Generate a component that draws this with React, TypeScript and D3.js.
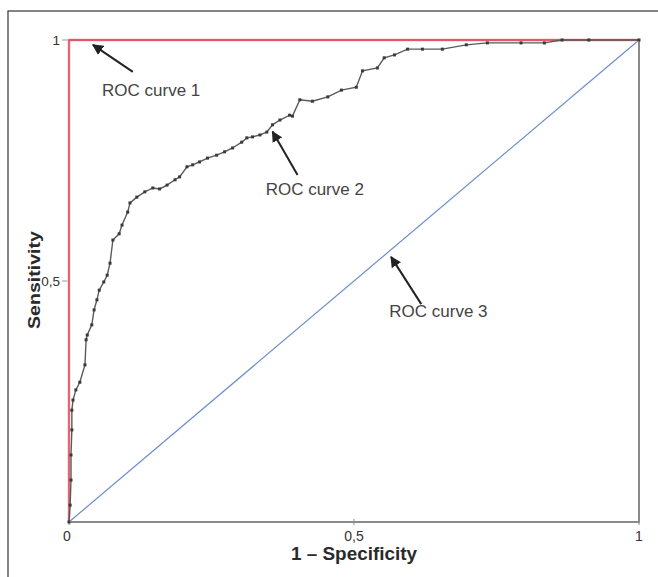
import React from "react";
import * as d3 from "d3";

const roc1: [number, number][] = [[0, 0], [0, 1], [1, 1]];
const roc3: [number, number][] = [[0, 0], [1, 1]];
const roc2: [number, number][] = [
  [0, 0], [0.002, 0.035], [0.0035, 0.087], [0.0035, 0.139], [0.005, 0.191], [0.005, 0.232],
  [0.007, 0.253], [0.012, 0.274], [0.019, 0.29], [0.028, 0.326], [0.03, 0.378], [0.032, 0.388],
  [0.04, 0.409], [0.044, 0.44], [0.049, 0.461], [0.053, 0.481], [0.061, 0.498], [0.067, 0.512],
  [0.072, 0.537], [0.077, 0.585], [0.088, 0.598], [0.093, 0.616], [0.103, 0.643], [0.107, 0.662],
  [0.119, 0.674], [0.133, 0.685], [0.147, 0.693], [0.159, 0.691], [0.172, 0.699], [0.186, 0.71],
  [0.194, 0.716], [0.207, 0.737], [0.217, 0.741], [0.229, 0.747], [0.243, 0.755], [0.259, 0.761],
  [0.273, 0.768], [0.287, 0.776], [0.303, 0.788], [0.312, 0.797], [0.322, 0.799], [0.335, 0.803],
  [0.347, 0.809], [0.357, 0.824], [0.37, 0.834], [0.387, 0.844], [0.392, 0.842], [0.405, 0.876],
  [0.427, 0.873], [0.454, 0.882], [0.478, 0.896], [0.504, 0.902], [0.515, 0.936], [0.541, 0.942],
  [0.553, 0.963], [0.571, 0.969], [0.594, 0.981], [0.62, 0.981], [0.655, 0.981], [0.697, 0.99],
  [0.734, 0.994], [0.793, 0.994], [0.834, 0.994], [0.865, 1.0], [0.912, 1.0], [1.0, 1.0],
];
const xTicks = [0, 0.5, 1];
const yTicks = [0.5, 1];
const tickLabel = (v: number) => (v === 0.5 ? "0,5" : String(v));

const annotations: { label: string; tail: [number, number]; head: [number, number]; text: [number, number] }[] = [
  { label: "ROC curve 1", tail: [0.112, 0.934], head: [0.042, 0.99], text: [0.058, 0.884] },
  { label: "ROC curve 2", tail: [0.401, 0.72], head: [0.357, 0.81], text: [0.345, 0.678] },
  { label: "ROC curve 3", tail: [0.618, 0.452], head: [0.565, 0.55], text: [0.562, 0.425] },
];

export default function App() {
  const W = 658, H = 577;
  const x = d3.scaleLinear().domain([0, 1]).range([69, 639]);
  const y = d3.scaleLinear().domain([0, 1]).range([522, 40]);
  const line = d3.line<[number, number]>().x(d => x(d[0])).y(d => y(d[1]));

  return (
    <svg width={W} height={H} style={{ position: "absolute", left: 0, top: 0, background: "#fff" }}>
      <defs>
        <marker id="ah" viewBox="0 0 10 10" refX="9" refY="5" markerWidth="5.5" markerHeight="5.5" orient="auto">
          <path d="M0,0 L10,5 L0,10 Z" fill="#222" />
        </marker>
      </defs>
      <rect x={0} y={0} width={W} height={H} fill="#fff" />
      <rect x={8} y={11} width={700} height={600} fill="none" stroke="#333" strokeWidth={1.2} />
      <path d={`M${x(0)},${y(1)} V${y(0)} H${x(1)} V${y(1)}`} fill="none" stroke="#8a8a8a" strokeWidth={2} />
      {xTicks.map(t => (
        <line key={"xt" + t} x1={x(t)} x2={x(t)} y1={y(0) - 3} y2={y(0) + 3} stroke="#8a8a8a" strokeWidth={1} />
      ))}
      {yTicks.map(t => (
        <line key={"yt" + t} x1={x(0) - 7} x2={x(0)} y1={y(t)} y2={y(t)} stroke="#9a9a9a" strokeWidth={1} />
      ))}
      <path d={line(roc3) || ""} fill="none" stroke="#6d8ccc" strokeWidth={1.2} />
      <path d={line(roc1) || ""} fill="none" stroke="#f6c4ca" strokeWidth={3} />
      <path d={line(roc1) || ""} fill="none" stroke="#d8364a" strokeWidth={1.3} />
      <path d={line(roc2) || ""} fill="none" stroke="#5a5a5a" strokeWidth={1.4} />
      {roc2.map((d, i) => (
        <rect key={"m" + i} x={x(d[0]) - 1.5} y={y(d[1]) - 1.5} width={3} height={3} fill="#3a3a3a" />
      ))}
      {xTicks.map(t => (
        <text key={"xl" + t} x={x(t) - (t === 0 ? 2 : 0)} y={541} textAnchor="middle" fontFamily="Liberation Sans" fontSize={14} fill="#333">
          {tickLabel(t)}
        </text>
      ))}
      {yTicks.map(t => (
        <text key={"yl" + t} x={x(0) - 9} y={y(t) + 5} textAnchor="end" fontFamily="Liberation Sans" fontSize={13.5} fill="#333">
          {tickLabel(t)}
        </text>
      ))}
      <text x={354} y={560} textAnchor="middle" fontFamily="Liberation Sans" fontWeight="bold" fontSize={18} fill="#2a2a2a" textLength={126} lengthAdjust="spacingAndGlyphs">
        1 – Specificity
      </text>
      <text transform={`translate(40,280) rotate(-90)`} textAnchor="middle" fontFamily="Liberation Sans" fontWeight="bold" fontSize={17} fill="#2a2a2a" textLength={98} lengthAdjust="spacingAndGlyphs">
        Sensitivity
      </text>
      {annotations.map(a => (
        <g key={a.label}>
          <line x1={x(a.tail[0])} y1={y(a.tail[1])} x2={x(a.head[0])} y2={y(a.head[1])} stroke="#222" strokeWidth={2} markerEnd="url(#ah)" />
          <text x={x(a.text[0])} y={y(a.text[1])} fontFamily="Liberation Sans" fontSize={17} fill="#444">
            {a.label}
          </text>
        </g>
      ))}
    </svg>
  );
}
